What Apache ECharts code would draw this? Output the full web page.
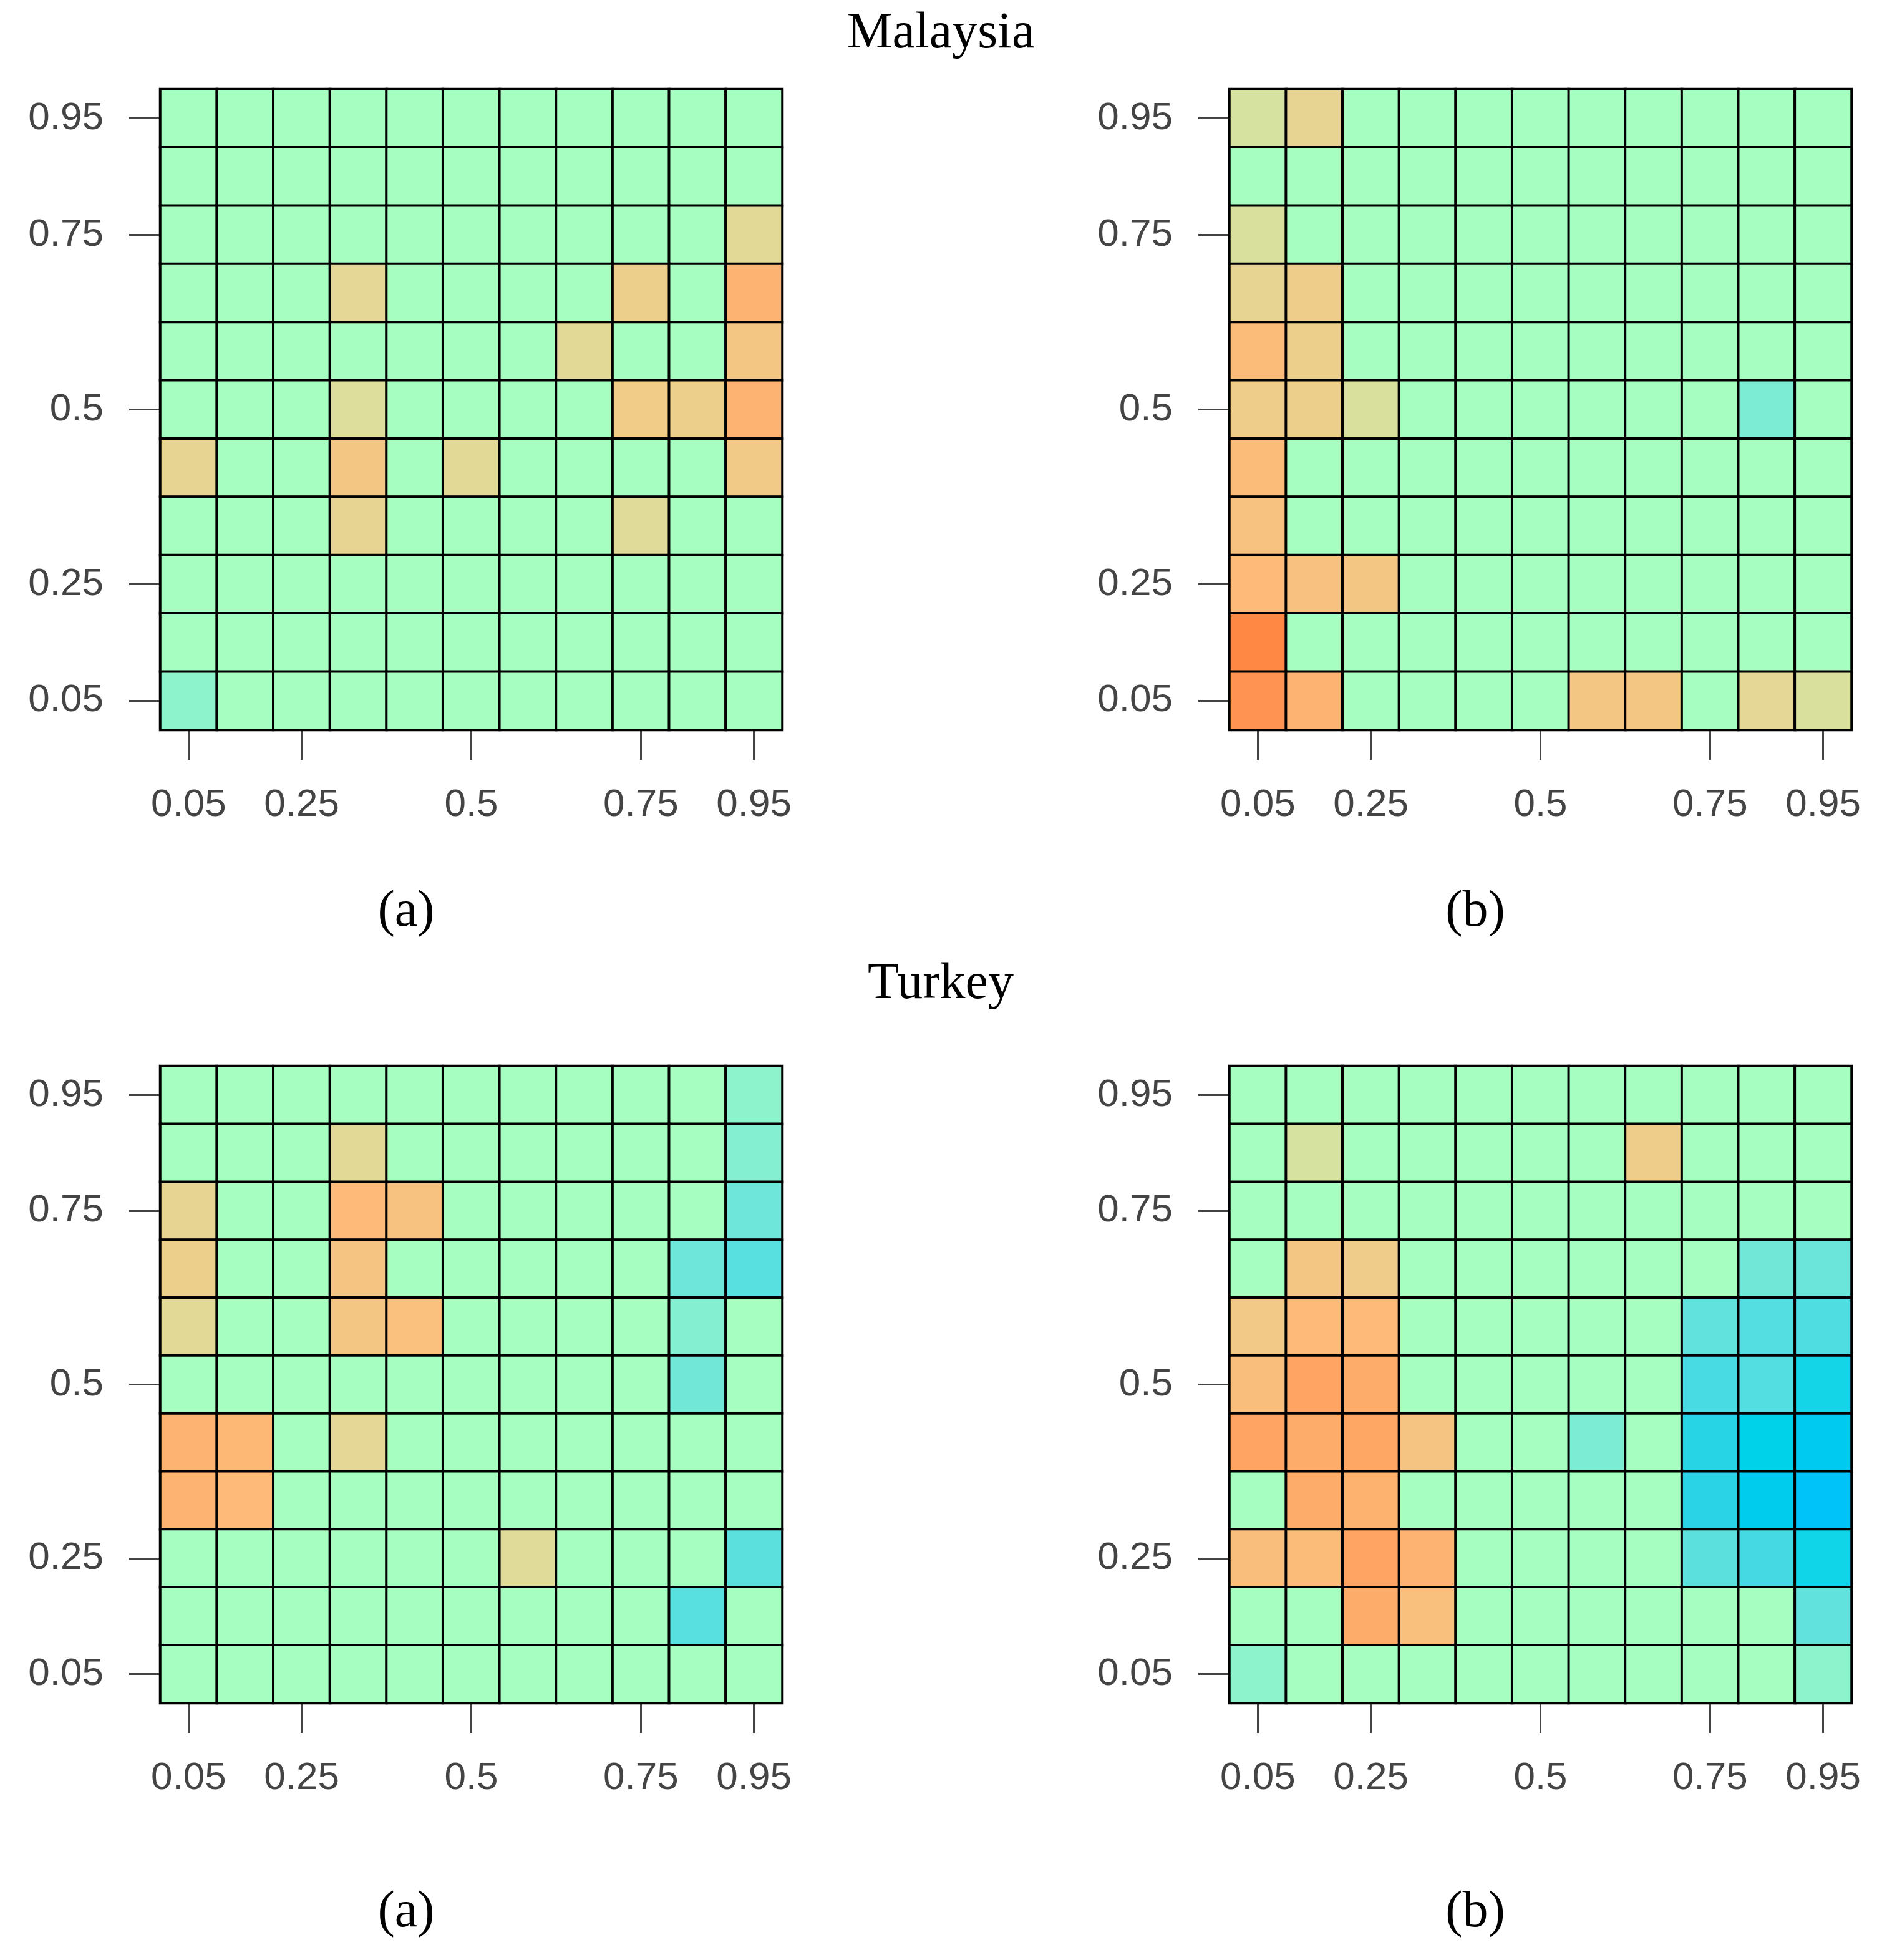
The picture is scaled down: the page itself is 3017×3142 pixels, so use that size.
<!DOCTYPE html>
<html>
<head>
<meta charset="utf-8">
<title>Malaysia / Turkey quantile heatmaps</title>
<script src="https://cdn.jsdelivr.net/npm/echarts@6/dist/echarts.min.js"></script>
<style>
  html, body { margin: 0; padding: 0; background: #fff; }
  #chart { width: 3017px; height: 3142px; }
</style>
</head>
<body>
<div id="chart"></div>
<script>
// quantile levels on both axes (only some get a label)
var taus = ['0.05', '0.1', '0.25', '0.3', '0.4', '0.5', '0.6', '0.7', '0.75', '0.9', '0.95'];
var labelled = [0, 2, 5, 8, 10];

// cell values, rows from top (0.95) down to bottom (0.05)
// >0 orange side, <0 blue side, 0 = neutral green
var malaysiaA = [
  [0, 0, 0, 0, 0, 0, 0, 0, 0, 0, 0],
  [0, 0, 0, 0, 0, 0, 0, 0, 0, 0, 0],
  [0, 0, 0, 0, 0, 0, 0, 0, 0, 0, 0.2],
  [0, 0, 0, 0.22, 0, 0, 0, 0, 0.3, 0, 0.55],
  [0, 0, 0, 0, 0, 0, 0, 0.2, 0, 0, 0.4],
  [0, 0, 0, 0.15, 0, 0, 0, 0, 0.35, 0.3, 0.55],
  [0.25, 0, 0, 0.4, 0, 0.2, 0, 0, 0, 0, 0.36],
  [0, 0, 0, 0.25, 0, 0, 0, 0, 0.18, 0, 0],
  [0, 0, 0, 0, 0, 0, 0, 0, 0, 0, 0],
  [0, 0, 0, 0, 0, 0, 0, 0, 0, 0, 0],
  [-0.1, 0, 0, 0, 0, 0, 0, 0, 0, 0, 0]
];
var malaysiaB = [
  [0.1, 0.25, 0, 0, 0, 0, 0, 0, 0, 0, 0],
  [0, 0, 0, 0, 0, 0, 0, 0, 0, 0, 0],
  [0.12, 0, 0, 0, 0, 0, 0, 0, 0, 0, 0],
  [0.25, 0.32, 0, 0, 0, 0, 0, 0, 0, 0, 0],
  [0.48, 0.3, 0, 0, 0, 0, 0, 0, 0, 0, 0],
  [0.32, 0.3, 0.12, 0, 0, 0, 0, 0, 0, -0.2, 0],
  [0.48, 0, 0, 0, 0, 0, 0, 0, 0, 0, 0],
  [0.43, 0, 0, 0, 0, 0, 0, 0, 0, 0, 0],
  [0.5, 0.44, 0.4, 0, 0, 0, 0, 0, 0, 0, 0],
  [0.9, 0, 0, 0, 0, 0, 0, 0, 0, 0, 0],
  [0.8, 0.56, 0, 0, 0, 0, 0.4, 0.4, 0, 0.22, 0.12]
];
var turkeyA = [
  [0, 0, 0, 0, 0, 0, 0, 0, 0, 0, -0.1],
  [0, 0, 0, 0.2, 0, 0, 0, 0, 0, 0, -0.15],
  [0.25, 0, 0, 0.5, 0.43, 0, 0, 0, 0, 0, -0.3],
  [0.3, 0, 0, 0.42, 0, 0, 0, 0, 0, -0.3, -0.45],
  [0.2, 0, 0, 0.4, 0.45, 0, 0, 0, 0, -0.15, 0],
  [0, 0, 0, 0, 0, 0, 0, 0, 0, -0.28, 0],
  [0.55, 0.52, 0, 0.22, 0, 0, 0, 0, 0, 0, 0],
  [0.55, 0.5, 0, 0, 0, 0, 0, 0, 0, 0, 0],
  [0, 0, 0, 0, 0, 0, 0.18, 0, 0, 0, -0.42],
  [0, 0, 0, 0, 0, 0, 0, 0, 0, -0.45, 0],
  [0, 0, 0, 0, 0, 0, 0, 0, 0, 0, 0]
];
var turkeyB = [
  [0, 0, 0, 0, 0, 0, 0, 0, 0, 0, 0],
  [0, 0.1, 0, 0, 0, 0, 0, 0.32, 0, 0, 0],
  [0, 0, 0, 0, 0, 0, 0, 0, 0, 0, 0],
  [0, 0.4, 0.33, 0, 0, 0, 0, 0, 0, -0.28, -0.32],
  [0.37, 0.5, 0.5, 0, 0, 0, 0, 0, -0.38, -0.47, -0.5],
  [0.47, 0.68, 0.62, 0, 0, 0, 0, 0, -0.52, -0.48, -0.7],
  [0.68, 0.62, 0.66, 0.42, 0, 0, -0.2, 0, -0.62, -0.8, -0.88],
  [0, 0.62, 0.57, 0, 0, 0, 0, 0, -0.6, -0.85, -0.96],
  [0.47, 0.48, 0.68, 0.55, 0, 0, 0, 0, -0.42, -0.53, -0.72],
  [0, 0, 0.62, 0.46, 0, 0, 0, 0, 0, 0, -0.38],
  [-0.1, 0, 0, 0, 0, 0, 0, 0, 0, 0, -0.1]
];

// colour ramp from -1 (deep sky blue) through 0 (green) to +1 (orange)
var ramp = [
  '#00BFFF', '#00C8F0', '#00D2EA', '#14D5E8', '#2AD4E6', '#50DDE2',
  '#5FE1DD', '#6EE6D9', '#7CECD5', '#8CF3CD', '#A6FFC1',
  '#D6E2A0', '#E3D997', '#EDCF8C', '#F4C684', '#FDBA78',
  '#FDAE6C', '#FFA25F', '#FF9452', '#FF8844', '#FF7F3F'
];

function toCells(rows) {
  var out = [];
  rows.forEach(function (row, r) {
    row.forEach(function (v, c) {
      out.push([c, rows.length - 1 - r, v]);
    });
  });
  return out;
}

var showIdx = function (idx) { return labelled.indexOf(idx) >= 0; };
var tickFont = { fontFamily: 'Liberation Sans', fontSize: 62, color: '#444' };

var panels = [
  { left: 257, top: 143, height: 1027, data: malaysiaA },
  { left: 1971, top: 143, height: 1027, data: malaysiaB },
  { left: 257, top: 1709, height: 1021, data: turkeyA },
  { left: 1971, top: 1709, height: 1021, data: turkeyB }
];

var grids = [], xAxes = [], yAxes = [], series = [];
panels.forEach(function (p, i) {
  grids.push({ left: p.left, top: p.top, width: 997, height: p.height });
  xAxes.push({
    type: 'category', gridIndex: i, data: taus,
    axisLine: { show: false },
    axisTick: { show: true, alignWithLabel: true, interval: showIdx, length: 48,
      lineStyle: { color: '#444', width: 3 } },
    axisLabel: Object.assign({ interval: showIdx, margin: 90 }, tickFont),
    splitLine: { show: false }
  });
  yAxes.push({
    type: 'category', gridIndex: i, data: taus,
    axisLine: { show: false },
    axisTick: { show: true, alignWithLabel: true, interval: showIdx, length: 50,
      lineStyle: { color: '#444', width: 3 } },
    axisLabel: Object.assign({ interval: showIdx, margin: 91 }, tickFont),
    splitLine: { show: false }
  });
  series.push({
    type: 'heatmap', xAxisIndex: i, yAxisIndex: i,
    data: toCells(p.data),
    itemStyle: { borderColor: '#000', borderWidth: 4 },
    emphasis: { disabled: true }
  });
});

var serif = 'Liberation Serif';
function label(text, x, y) {
  return { type: 'text', x: x, y: y,
    style: { text: text, font: '82px "' + serif + '"', fill: '#000',
      textAlign: 'center', textVerticalAlign: 'middle' } };
}

var chart = echarts.init(document.getElementById('chart'));
chart.setOption({
  backgroundColor: '#fff',
  animation: false,
  grid: grids,
  xAxis: xAxes,
  yAxis: yAxes,
  visualMap: {
    type: 'continuous', show: false, min: -1, max: 1,
    inRange: { color: ramp }
  },
  graphic: [
    label('Malaysia', 1508, 54),
    label('(a)', 651, 1462),
    label('(b)', 2365, 1462),
    label('Turkey', 1508, 1578),
    label('(a)', 651, 3066),
    label('(b)', 2365, 3066)
  ],
  series: series
});
</script>
</body>
</html>
